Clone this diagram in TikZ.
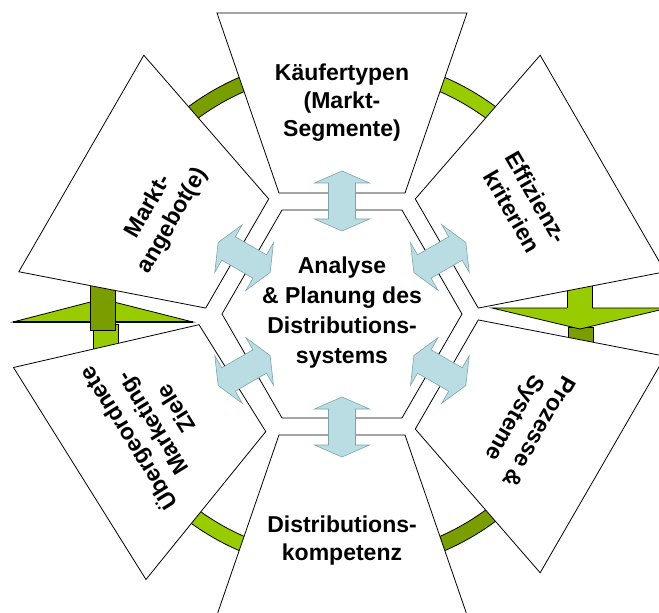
\documentclass[tikz,border=0pt]{standalone}
\usepackage{fontspec}
\setmainfont{Liberation Sans}
\usepackage{tikz}
\usepackage{xcolor}
\usetikzlibrary{calc}
\usetikzlibrary{positioning}

\definecolor{lightgreen}{RGB}{153,204,0}
\definecolor{darkgreen}{RGB}{122,158,0}
\definecolor{arrowblue}{RGB}{185,221,226}
\definecolor{arrowrim}{RGB}{125,165,170}

\tikzset{
  panel/.style={draw=black, line width=0.8pt, fill=white},
  band/.style={draw=black, line width=0.8pt},
  paneltext/.style={font=\bfseries\fontsize{23}{28}\selectfont, align=center, inner sep=0pt},
  twoway/.style={fill=arrowblue, draw=arrowrim, line width=0.6pt}
}

\begin{document}
\begin{tikzpicture}[x=1pt, y=1pt]
\useasboundingbox (-342,-299) rectangle (317,314);
\clip (-342,-299) rectangle (317,314);

%ring
\draw[band, fill=darkgreen] (90:243) arc (90:150:243) -- (150:258) arc (150:90:258) -- cycle;
\draw[band, fill=lightgreen] (30:243) arc (30:90:243) -- (90:258) arc (90:30:258) -- cycle;
\draw[band, fill=lightgreen] (210:243) arc (210:270:243) -- (270:258) arc (270:210:258) -- cycle;
\draw[band, fill=darkgreen] (270:243) arc (270:330:243) -- (330:258) arc (330:270:258) -- cycle;

%left head
\draw[band, fill=lightgreen] (-249,-45) rectangle (-224,-10);
\draw[band, fill=lightgreen] (-329,-8) -- (-240,15) -- (-149,-8) -- cycle;
\draw[line width=1.6pt] (-329,-8) -- (-149,-8);
\draw[band, fill=darkgreen] (-252,-16) rectangle (-227,40);

%right head
\draw[band, fill=darkgreen] (226,-45) rectangle (251,-13);
\draw[band, fill=lightgreen] (150,6) -- (326,6) -- (238,-15) -- cycle;
\fill[lightgreen] (225,5) rectangle (250,40);
\draw[band] (225,6) -- (225,40) (250,6) -- (250,40);

%panels
\foreach \r/\dx in {0/0, 60/0, -60/0, -120/0, 180/0, 122/-7} {
  \draw[panel, xshift=\dx, rotate=\r] (-63,121) -- (63,121) -- (125,301) -- (-125,301) -- cycle;
}
\draw[panel] (0:120) -- (60:120) -- (120:120) -- (180:120) -- (240:120) -- (300:120) -- cycle;

%arrows
\foreach \r in {0,60,...,300} {
  \draw[twoway, rotate=\r] (0,143) -- (27.5,131) -- (13.5,131) -- (13.5,95) -- (27.5,95)
    -- (0,83) -- (-27.5,95) -- (-13.5,95) -- (-13.5,131) -- (-27.5,131) -- cycle;
}

%texts
\node[paneltext, font=\bfseries\fontsize{23}{30}\selectfont] (analyse) at (0,1) {Analyse\\\& Planung des\\Distributions-\\systems};
\node[paneltext] (kaeufer) at (90:211) {Käufertypen\\(Markt-\\Segmente)};
\node[paneltext, rotate=60] (markt) at (151:207) {Markt-\\angebot(e)};
\node[paneltext, rotate=-60] (effizienz) at (31:213) {Effizienz-\\kriterien};
\node[paneltext, rotate=-120] (prozesse) at (-31:214) {Prozesse \&\\Systeme};
\node[paneltext] (kompetenz) at (270:227) {Distributions-\\kompetenz};
\node[paneltext, rotate=122] (ziele) at (210:221) {Übergeordnete\\Marketing-\\Ziele};
\end{tikzpicture}
\end{document}
